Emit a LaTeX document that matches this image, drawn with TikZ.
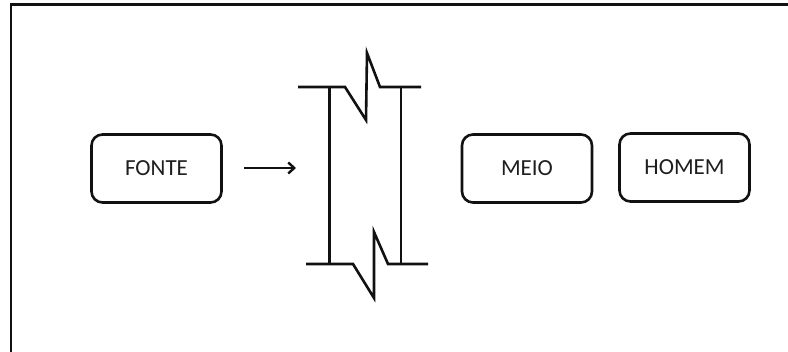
\documentclass[tikz,border=0pt]{standalone}
\usepackage{fontspec}
\setmainfont{Carlito}
\usepackage{tikz}
\usepackage{xcolor}
\usetikzlibrary{arrows.meta,positioning}
\definecolor{ink}{HTML}{111111}
\definecolor{textgray}{HTML}{1E1E1E}
\tikzset{
  blockbox/.style={draw=ink,fill=white,line width=2.6pt,rounded corners=11pt,
                   minimum width=130pt,minimum height=68pt,inner sep=0pt,
                   align=center,font=\fontsize{23}{27}\selectfont,text=textgray},
  wallline/.style={draw=ink,line width=2.6pt,line join=miter},
  framearr/.style={-{Straight Barb[length=6pt,width=11pt]},line width=2.4pt,color=ink}
}

\begin{document}
\begin{tikzpicture}[x=1pt,y=-1pt]
  \useasboundingbox (0,0) rectangle (788,352);
  % frame, only left and top edges show
  \draw[ink,line width=2.2pt] (11,352) -- (11,4.5) -- (788,4.5);

  % blocks
  \node[blockbox] (fonte) at (156.5,168.5) {FONTE};
  \node[blockbox] (meio)  at (527,168.5)   {MEIO};
  \node[blockbox] (homem) at (684.5,167.5) {HOMEM};

  % arrow towards the wall
  \coordinate (arrtail) at (244,168);
  \coordinate (arrhead) at (296,168);
  \draw[framearr] (arrtail) -- (arrhead);

  % broken wall
  \draw[wallline] (298,87) -- (345,87) -- (366,120) -- (367,53) -- (380,87) -- (421,87);
  \draw[wallline] (306,264) -- (353,264) -- (374,298) -- (374,232) -- (388,264) -- (428,264);
  \draw[wallline] (329.5,87) -- (329.5,264);
  \draw[wallline] (401,87) -- (401,264);
\end{tikzpicture}
\end{document}
